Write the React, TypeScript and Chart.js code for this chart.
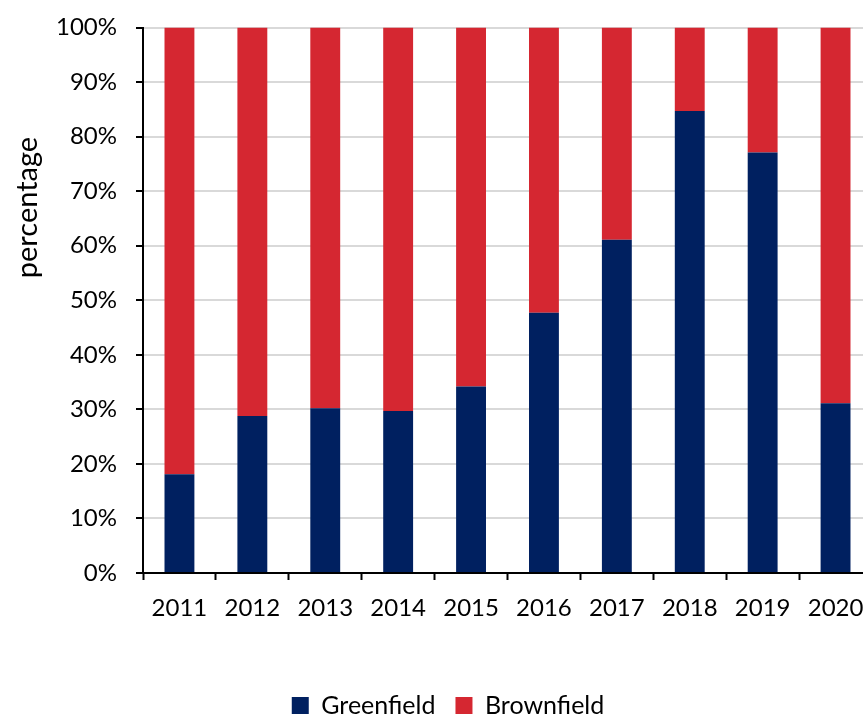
import React, { useEffect, useRef } from "react";
import { Chart, registerables } from "chart.js";

Chart.register(...registerables);

const years = ["2011", "2012", "2013", "2014", "2015", "2016", "2017", "2018", "2019", "2020"];
const greenfield = [18.1, 28.8, 30.2, 29.7, 34.2, 47.7, 61.1, 84.7, 77.1, 31.1];
const brownfield = [81.9, 71.2, 69.8, 70.3, 65.8, 52.3, 38.9, 15.3, 22.9, 68.9];
const yTicks = [0, 10, 20, 30, 40, 50, 60, 70, 80, 90, 100];
const yTitle = "percentage";

const NAVY = "#002060";
const RED = "#D52731";
const FONT = "Lato";

const yTitlePlugin = {
  id: "yTitlePlugin",
  afterDraw(chart: any) {
    const { ctx, chartArea } = chart;
    const h = chartArea.bottom - chartArea.top;
    ctx.save();
    ctx.translate(28, chartArea.top + h * 0.33);
    ctx.rotate(-Math.PI / 2);
    ctx.font = `29px ${FONT}`;
    ctx.fillStyle = "#000";
    ctx.textAlign = "center";
    ctx.textBaseline = "middle";
    ctx.fillText(yTitle, 0, 0);
    ctx.restore();
  },
};

export default function App() {
  const ref = useRef<HTMLCanvasElement>(null);
  useEffect(() => {
    if (!ref.current) return;
    const chart = new Chart(ref.current, {
      type: "bar",
      data: {
        labels: years,
        datasets: [
          { label: "Greenfield", data: greenfield, backgroundColor: NAVY, borderWidth: 0, barPercentage: 0.41, categoryPercentage: 1 },
          { label: "Brownfield", data: brownfield, backgroundColor: RED, borderWidth: 0, barPercentage: 0.41, categoryPercentage: 1 },
        ],
      },
      options: {
        responsive: false,
        animation: false,
        layout: { padding: { left: 24, right: 8, top: 27.5, bottom: 0 } },
        plugins: {
          tooltip: { enabled: false },
          legend: {
            position: "bottom",
            labels: {
              boxWidth: 17,
              boxHeight: 17,
              padding: 20,
              color: "#000",
              font: { family: FONT, size: 25 },
            },
          },
        },
        scales: {
          x: {
            stacked: true,
            offset: true,
            grid: { display: true, drawOnChartArea: false, drawTicks: true, tickLength: 7, tickColor: "#000", tickWidth: 2, offset: true },
            border: { display: true, color: "#000", width: 2 },
            ticks: { color: "#000", font: { family: FONT, size: 24 }, padding: 14, maxRotation: 0, autoSkip: false },
            afterFit: (s: any) => { s.height = 100; },
          },
          y: {
            stacked: true,
            min: 0,
            max: 100,
            afterBuildTicks: (s: any) => { s.ticks = yTicks.map((v) => ({ value: v })); },
            grid: { color: "#d9d9d9", lineWidth: 2, drawTicks: true, tickLength: 7, tickColor: "#000", tickWidth: 2 },
            border: { display: true, color: "#000", width: 2 },
            ticks: { color: "#000", font: { family: FONT, size: 24 }, padding: 19, callback: (v: any) => v + "%" },
            afterFit: (s: any) => { s.width = 119; s.paddingTop = 0; s.paddingBottom = 0; },
          },
        },
      },
      plugins: [yTitlePlugin],
    });
    return () => chart.destroy();
  }, []);
  return (
    <div style={{ position: "fixed", left: 0, top: 0, width: 863, height: 717, overflow: "hidden", background: "#fff" }}>
      <canvas ref={ref} width={880} height={728} style={{ display: "block" }} />
    </div>
  );
}
